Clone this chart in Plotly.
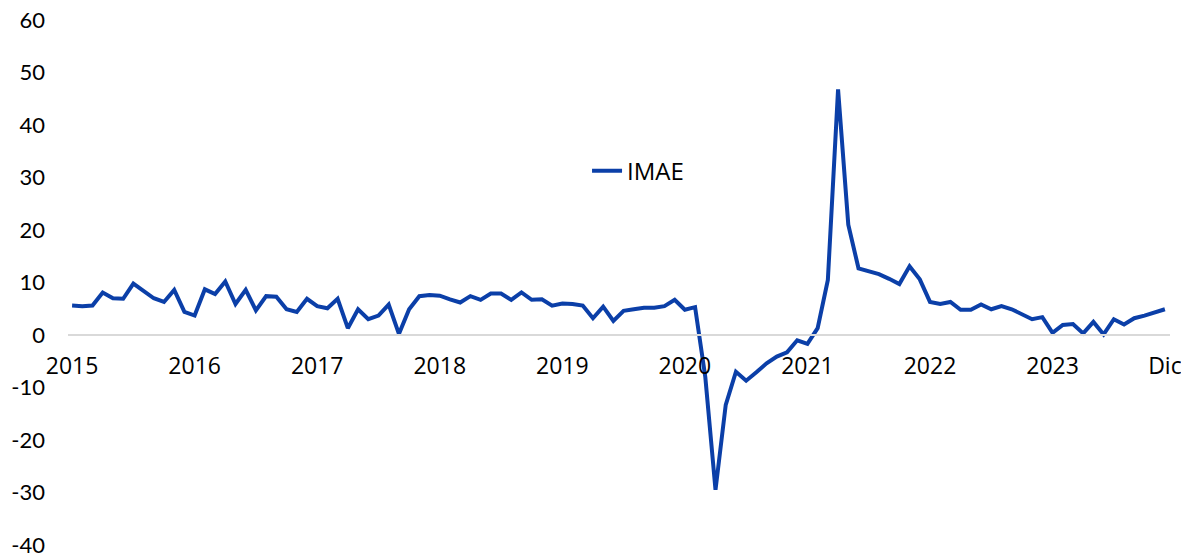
import plotly.graph_objects as go
import pandas as pd

months = [d.strftime("%Y-%m") for d in pd.date_range("2015-01-01", periods=108, freq="MS")]

imae = [
    5.6, 5.5, 5.6, 8.1, 7.0, 6.9, 9.8, 8.4, 7.0, 6.3, 8.6, 4.4,   # 2015
    3.7, 8.7, 7.8, 10.2, 5.9, 8.6, 4.7, 7.4, 7.3, 4.9, 4.4, 6.9,  # 2016
    5.5, 5.1, 6.9, 1.3, 4.9, 3.0, 3.7, 5.8, 0.2, 4.9, 7.4, 7.6,   # 2017
    7.5, 6.8, 6.2, 7.4, 6.7, 7.9, 7.9, 6.7, 8.1, 6.7, 6.8, 5.6,   # 2018
    6.0, 5.9, 5.6, 3.2, 5.4, 2.7, 4.6, 4.9, 5.2, 5.2, 5.5, 6.7,   # 2019
    4.8, 5.3, -8.0, -29.5, -13.3, -7.0, -8.7, -7.1, -5.4, -4.1, -3.3, -1.0,  # 2020
    -1.7, 1.3, 10.5, 46.8, 21.0, 12.7, 12.1, 11.6, 10.7, 9.7, 13.1, 10.6,    # 2021
    6.3, 5.9, 6.3, 4.8, 4.8, 5.8, 4.9, 5.5, 4.9, 3.9, 3.0, 3.4,   # 2022
    0.4, 1.9, 2.1, 0.3, 2.5, 0.1, 3.0, 2.0, 3.2, 3.7, 4.3, 4.9,   # 2023
]

tick_months = ["2015-01", "2016-01", "2017-01", "2018-01", "2019-01",
               "2020-01", "2021-01", "2022-01", "2023-01", "2023-12"]
tick_labels = ["2015", "2016", "2017", "2018", "2019",
               "2020", "2021", "2022", "2023", "Dic"]
y_ticks = [-40, -30, -20, -10, 0, 10, 20, 30, 40, 50, 60]
y_labels = ["-40", "-30", "-20", "-10", "0", "10", "20", "30", "40", "50", "60"]

fig = go.Figure()
fig.add_trace(go.Scatter(
    x=months, y=imae, mode="lines", name="IMAE",
    line=dict(color="#0B3FA8", width=4),
))

fig.update_layout(
    width=1181, height=553,
    margin=dict(l=60, r=19, t=12, b=16),
    paper_bgcolor="white", plot_bgcolor="white",
    showlegend=True,
    legend=dict(x=0.471, y=0.755, xanchor="left", yanchor="top",
                font=dict(family="Open Sans", size=24, color="black"),
                bgcolor="rgba(0,0,0,0)"),
    xaxis=dict(
        type="category", range=[-0.4, 107.5],
        anchor="free", position=0.4, automargin=False,
        showline=True, linecolor="#d9d9d9", linewidth=2,
        showgrid=False, zeroline=False, ticks="",
        tickmode="array", tickvals=tick_months, ticktext=tick_labels,
        tickfont=dict(family="Open Sans", size=23, color="black"),
        ticklabelstandoff=10,
    ),
    yaxis=dict(
        range=[-40, 60], tickmode="array", tickvals=y_ticks, ticktext=y_labels,
        automargin=False, ticklabeloverflow="allow",
        showgrid=False, zeroline=False, showline=False, ticks="",
        tickfont=dict(family="Lato", size=22, color="black"),
        ticklabelstandoff=22,
    ),
)

fig.write_html("out.html")
